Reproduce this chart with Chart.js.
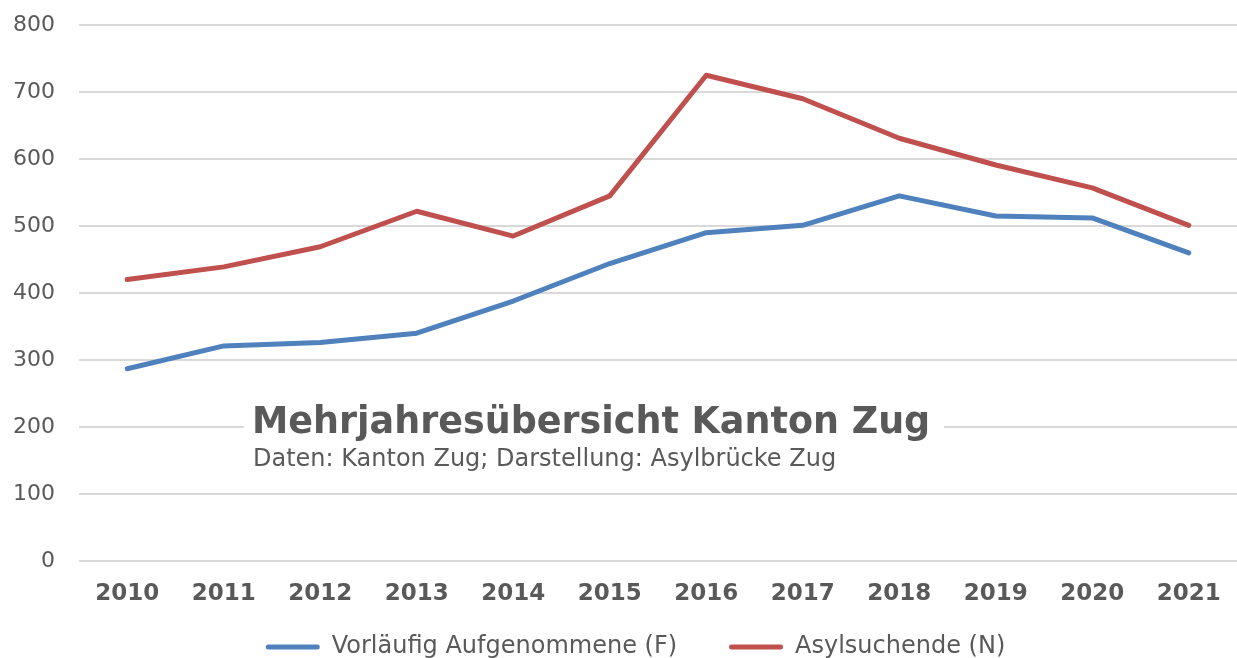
<!DOCTYPE html>
<html>
<head>
<meta charset="utf-8">
<script src="https://cdn.jsdelivr.net/npm/chart.js@4.4.1/dist/chart.umd.min.js"></script>
<style>
  html, body { margin: 0; padding: 0; background: #fff; }
</style>
</head>
<body>
<canvas id="chart" width="1237" height="658"></canvas>
<script>
// data
var years = ['2010', '2011', '2012', '2013', '2014', '2015', '2016', '2017', '2018', '2019', '2020', '2021'];
var aufgenommene = [287, 321, 326, 340, 388, 444, 490, 501, 545, 515, 512, 460];
var asylsuchende = [420, 439, 469, 522, 485, 545, 725, 690, 631, 591, 557, 501];
var seriesNames = ['Vorläufig Aufgenommene (F)', 'Asylsuchende (N)'];
var titleText = 'Mehrjahresübersicht Kanton Zug';
var subtitleText = 'Daten: Kanton Zug; Darstellung: Asylbrücke Zug';

var grey = '#595959';
var fontFamily = '"DejaVu Sans", Verdana, sans-serif';

/** Title block sitting on the 200 gridline, white box behind it */
var titleBlock = {
  id: 'titleBlock',
  beforeDatasetsDraw: function(chart) {
    var ctx = chart.ctx;
    var area = chart.chartArea;
    var yLine = chart.scales.y.getPixelForValue(200);
    var x = area.left + 173;
    ctx.save();
    ctx.fillStyle = '#ffffff';
    ctx.fillRect(x - 8, yLine - 26, 700, 76);
    ctx.fillStyle = grey;
    ctx.textBaseline = 'alphabetic';
    ctx.textAlign = 'left';
    ctx.font = 'bold 36.5px ' + fontFamily;
    ctx.fillText(titleText, x, yLine + 6);
    ctx.font = '24px ' + fontFamily;
    ctx.fillText(subtitleText, x + 1, yLine + 39);
    ctx.restore();
  }
};

/** legend sits lower and a bit to the right, like the excel one */
var legendPlace = {
  id: 'legendPlace',
  afterLayout: function(chart) {
    var lg = chart.legend;
    var h = lg.bottom - lg.top;
    lg.top = 583;
    lg.bottom = lg.top + h;
    lg.left += 17;
    lg.right += 17;
  }
};

var chart = new Chart(document.getElementById('chart'), {
  type: 'line',
  data: {
    labels: years,
    datasets: [{
      label: seriesNames[0],
      data: aufgenommene,
      borderColor: '#4F81BD',
      backgroundColor: '#4F81BD',
      borderWidth: 5,
      pointRadius: 0,
      borderCapStyle: 'round',
      borderJoinStyle: 'round',
      tension: 0
    }, {
      label: seriesNames[1],
      data: asylsuchende,
      borderColor: '#C0504D',
      backgroundColor: '#C0504D',
      borderWidth: 5,
      pointRadius: 0,
      borderCapStyle: 'round',
      borderJoinStyle: 'round',
      tension: 0
    }]
  },
  options: {
    responsive: false,
    animation: false,
    devicePixelRatio: 1,
    layout: {
      autoPadding: false,
      padding: { top: 25, right: 0, left: 0, bottom: -36 }
    },
    scales: {
      x: {
        offset: true,
        grid: { display: false },
        border: { display: false },
        ticks: {
          color: grey,
          padding: 11,
          maxRotation: 0,
          autoSkip: false,
          font: { family: fontFamily, size: 23, weight: 'bold' }
        },
        afterFit: function(scale) { scale.height = 47; }
      },
      y: {
        min: 0,
        max: 800,
        grid: { color: '#D9D9D9', lineWidth: 2, drawTicks: false },
        border: { display: false },
        ticks: {
          stepSize: 100,
          color: grey,
          padding: 24,
          font: { family: fontFamily, size: 22 }
        },
        afterFit: function(scale) {
          scale.width = 79;
          // tick padding would otherwise be added above/below the axis
          scale.paddingTop = 13;
          scale.paddingBottom = 13;
        }
      }
    },
    plugins: {
      title: { display: false },
      tooltip: { enabled: false },
      legend: {
        position: 'bottom',
        labels: {
          color: grey,
          boxWidth: 54,
          boxHeight: 5,
          padding: 52,
          useBorderRadius: true,
          borderRadius: 2.5,
          font: { family: fontFamily, size: 24 },
          generateLabels: function(c) {
            var items = Chart.defaults.plugins.legend.labels.generateLabels(c);
            items.forEach(function(item) {
              item.lineWidth = 0;
              item.fillStyle = item.strokeStyle;
            });
            return items;
          }
        }
      }
    }
  },
  plugins: [titleBlock, legendPlace]
});

// nudge the padding so the plot area lands where the reference has it
function fitArea() {
  var a = chart.chartArea;
  var p = chart.options.layout.padding;
  chart.options.layout.padding = {
    top: p.top + (25 - a.top),
    left: p.left,
    bottom: p.bottom + (a.bottom - 561),
    right: p.right + (a.right - 1237)
  };
  chart.update();
}
fitArea();
fitArea();
</script>
</body>
</html>
